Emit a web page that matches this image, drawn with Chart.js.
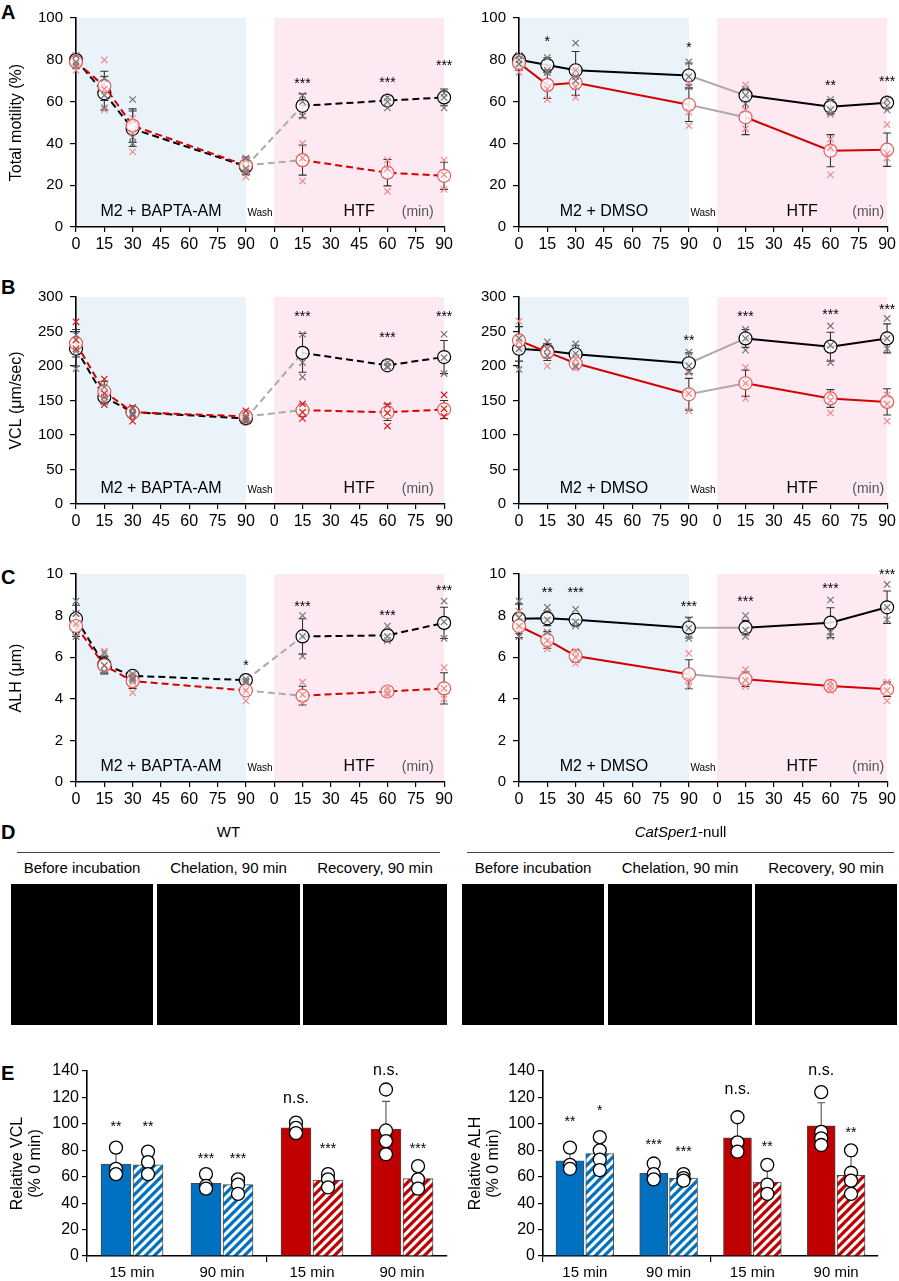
<!DOCTYPE html>
<html><head><meta charset="utf-8">
<script src="https://cdn.jsdelivr.net/npm/chart.js@4.4.0/dist/chart.umd.min.js"></script>
<style>
body{margin:0;background:#fff;width:899px;height:1281px;position:relative;overflow:hidden;font-family:"Liberation Sans",Arial,sans-serif;color:#000;}
canvas{position:absolute;}
.pl{position:absolute;left:1px;font-weight:bold;font-size:20px;line-height:22px;}
.dh{position:absolute;font-size:15px;line-height:18px;text-align:center;}
.dl{position:absolute;height:0;border-top:1.3px solid #444;}
.im{position:absolute;background:#000;}
</style></head><body>

<div class="pl" style="top:1px">A</div>
<div class="pl" style="top:276px">B</div>
<div class="pl" style="top:566px">C</div>
<div class="pl" style="top:821px">D</div>
<div class="pl" style="top:1062px">E</div>

<canvas id="aL" width="456" height="252" style="left:0;top:0"></canvas>
<canvas id="aR" width="449" height="252" style="left:450px;top:0"></canvas>
<canvas id="bL" width="456" height="250" style="left:0;top:279px"></canvas>
<canvas id="bR" width="449" height="250" style="left:450px;top:279px"></canvas>
<canvas id="cL" width="456" height="251" style="left:0;top:556px"></canvas>
<canvas id="cR" width="449" height="251" style="left:450px;top:556px"></canvas>

<div class="dh" style="left:17px;width:423px;top:823px">WT</div>
<div class="dl" style="left:17px;width:423px;top:852px"></div>
<div class="dh" style="left:467px;width:427px;top:823px"><i>CatSper1</i>-null</div>
<div class="dl" style="left:467px;width:427px;top:852px"></div>
<div class="dh" style="left:11px;width:142px;top:859px">Before incubation</div>
<div class="dh" style="left:157px;width:143px;top:859px">Chelation, 90 min</div>
<div class="dh" style="left:303px;width:144px;top:859px">Recovery, 90 min</div>
<div class="dh" style="left:462px;width:142px;top:859px">Before incubation</div>
<div class="dh" style="left:608px;width:144px;top:859px">Chelation, 90 min</div>
<div class="dh" style="left:755px;width:142px;top:859px">Recovery, 90 min</div>
<div class="im" style="left:11px;top:884px;width:142px;height:141px"></div>
<div class="im" style="left:157px;top:884px;width:143px;height:141px"></div>
<div class="im" style="left:303px;top:884px;width:144px;height:141px"></div>
<div class="im" style="left:462px;top:884px;width:142px;height:141px"></div>
<div class="im" style="left:608px;top:884px;width:144px;height:141px"></div>
<div class="im" style="left:755px;top:884px;width:142px;height:141px"></div>

<canvas id="eL" width="455" height="231" style="left:0;top:1050px"></canvas>
<canvas id="eR" width="449" height="231" style="left:450px;top:1050px"></canvas>

<script>
// ---------- time axis ----------
const M2_MIN = [0, 15, 30, 90];
const HTF_MIN = [15, 60, 90];
const WASH_OFFSET = 105; // axis position of HTF 0 min

// ---------- A: total motility (%) ----------
const motBaptaWT = [80, 64, 47, 29, 58, 60.5, 62];
const motBaptaWTsd = [2.5, 8, 8.5, 4, 5.7, 2, 4];
const motBaptaWTrep = [[82,79,77],[71,63,57],[61,43,40],[33,28,26],[63,60,53],[62,60,57],[64,62,57]];
const motBaptaKO = [79, 67.5, 48.5, 29.5, 32, 26, 24.5];
const motBaptaKOsd = [3, 7, 8, 4, 7.2, 6.3, 6.5];
const motBaptaKOrep = [[82,78,75],[80,66,56],[52,45,36],[32,27,24],[40,33,22],[32,28,17],[32,25,18]];
const motBaptaSig = ['', '', '', '', '***', '***', '***'];
const motBaptaSigY = [null, null, null, null, 70, 70.4, 78.4];

const motDmsoWT = [80, 77.5, 75, 72.5, 63, 57.5, 59.5];
const motDmsoWTsd = [3, 3.5, 9, 6, 3, 3.5, 2.5];
const motDmsoWTrep = [[82,80,78],[81,75,74],[88,72,70],[79,72,67],[66,63,59],[61,56,54],[61,58,56]];
const motDmsoKO = [78.5, 68, 69, 58.5, 52.5, 36.5, 37];
const motDmsoKOsd = [3.5, 6.5, 6, 8, 8.3, 7.7, 8];
const motDmsoKOrep = [[82,78,74],[74,66,61],[75,67,62],[69,55,48.5],[68,56,47],[42,38,25],[49,35,33]];
const motDmsoSig = ['', '*', '', '*', '', '**', '***'];
const motDmsoSigY = [null, 90, null, 87, null, 69, 71];

// ---------- B: VCL (µm/sec) ----------
const vclBaptaWT = [225, 155, 133, 124, 219, 201, 213];
const vclBaptaWTsd = [25, 10, 5, 4, 28, 5, 24];
const vclBaptaWTrep = [[245,222,196],[170,155,148],[138,132,128],[128,122,119],[246,205,184],[205,200,198],[246,212,189]];
const vclBaptaKO = [233, 163, 133, 127, 136, 133, 137];
const vclBaptaKOsd = [20, 15, 8, 6, 9, 12, 13];
const vclBaptaKOrep = [[264,238,225],[181,160,144],[140,130,120],[135,125,120],[145,133,124],[143,132,113],[158,138,127]];
const vclBaptaSig = ['', '', '', '', '***', '***', '***'];
const vclBaptaSigY = [null, null, null, null, 275, 245, 275];

const vclDmsoWT = [225, 222, 217, 204, 240, 228, 240];
const vclDmsoWTsd = [18, 10, 13, 15, 13, 21, 21];
const vclDmsoWTrep = [[240,225,195],[235,225,215],[232,218,200],[220,200,192],[253,240,223],[258,230,205],[269,240,225]];
const vclDmsoKO = [237, 220, 204, 159, 175, 153, 148];
const vclDmsoKOsd = [20, 12, 8, 23, 19, 13, 19];
const vclDmsoKOrep = [[265,235,225],[225,215,200],[210,200,197],[190,160,135],[198,175,153],[160,150,132],[158,145,120]];
const vclDmsoSig = ['', '', '', '**', '***', '***', '***'];
const vclDmsoSigY = [null, null, null, 241, 275, 278, 285];

// ---------- C: ALH (µm) ----------
const alhBaptaWT = [7.85, 5.65, 5.1, 4.9, 7.0, 7.05, 7.65];
const alhBaptaWTsd = [0.65, 0.4, 0.15, 0.1, 0.85, 0.25, 0.75];
const alhBaptaWTrep = [[8.7,8.1,7.0],[6.2,5.6,5.3],[5.2,5.0,4.9],[4.95,4.85,4.8],[8.0,7.0,6.05],[7.5,7.0,6.8],[8.7,7.7,6.9]];
const alhBaptaKO = [7.5, 5.6, 4.85, 4.4, 4.15, 4.35, 4.5];
const alhBaptaKOsd = [0.5, 0.4, 0.35, 0.2, 0.45, 0.15, 0.75];
const alhBaptaKOrep = [[8.1,7.6,7.0],[6.3,5.6,5.3],[5.1,4.8,4.3],[4.8,4.4,3.9],[4.8,4.2,3.8],[4.5,4.3,4.2],[5.5,4.5,4.0]];
const alhBaptaSig = ['', '', '', '*', '***', '***', '***'];
const alhBaptaSigY = [null, null, null, 5.7, 8.54, 8.11, 9.31];

const alhDmsoWT = [7.85, 7.87, 7.8, 7.42, 7.42, 7.66, 8.4];
const alhDmsoWTsd = [0.7, 0.35, 0.3, 0.5, 0.35, 0.72, 0.78];
const alhDmsoWTrep = [[8.7,7.9,7.0],[8.4,7.8,7.2],[8.3,7.7,7.5],[7.8,7.4,6.9],[8.0,7.3,7.0],[8.75,7.2,7.0],[9.5,8.4,7.8]];
const alhDmsoKO = [7.5, 6.83, 6.06, 5.18, 4.94, 4.62, 4.46];
const alhDmsoKOsd = [0.55, 0.4, 0.3, 0.7, 0.35, 0.15, 0.35];
const alhDmsoKOrep = [[8.2,7.5,7.0],[7.2,6.8,6.4],[6.3,6.0,5.7],[6.18,4.9,4.6],[5.4,4.9,4.6],[4.8,4.6,4.4],[4.8,4.4,3.9]];
const alhDmsoSig = ['', '**', '***', '***', '***', '***', '***'];
const alhDmsoSigY = [null, 9.23, 9.23, 8.54, 8.78, 9.44, 10.08];

// ---------- E: relative VCL / ALH (% 0 min) ----------
const eCategories = ['15 min', '90 min', '15 min', '90 min'];
const eGenotypeIsWT = [true, true, false, false];

const relVclSolid = [69.5, 55, 97, 96];
const relVclSolidErr = [8.5, 4, 4, 21];
const relVclSolidPts = [[82,66,62],[62,53,51],[101,97,93],[126,95,87,77]];
const relVclSolidSig = ['**', '***', 'n.s.', 'n.s.'];
const relVclSolidSigY = [100, 76, 119, 140];
const relVclHatched = [69, 54, 57.5, 58.5];
const relVclHatchedErr = [6, 4, 4, 7];
const relVclHatchedPts = [[79,71,62],[58,54,47],[62,58,52],[68,58,51]];
const relVclHatchedSig = ['**', '***', '***', '***'];
const relVclHatchedSigY = [100, 76, 83, 83];

const relAlhSolid = [72, 62.5, 89.5, 98.5];
const relAlhSolidErr = [6, 5, 11.5, 17.5];
const relAlhSolidPts = [[82,69,66],[70,62,58],[105,86,79],[124,94,89,84]];
const relAlhSolidSig = ['**', '***', 'n.s.', 'n.s.'];
const relAlhSolidSigY = [104, 86, 126, 140];
const relAlhHatched = [77.5, 59, 56, 61];
const relAlhHatchedErr = [9.5, 2.5, 9, 14.5];
const relAlhHatchedPts = [[90,80,73,65],[62,59,57],[69,54,47],[80,63,57,47]];
const relAlhHatchedSig = ['*', '***', '**', '**'];
const relAlhHatchedSigY = [112, 81, 85, 95];

// ---------- styles ----------
Chart.defaults.font.family = '"Liberation Sans", Arial, sans-serif';
Chart.defaults.color = '#000';
const FONT = '"Liberation Sans", Arial, sans-serif';
const GRAY_LINE = '#ababab', RED = '#d40000', RED_PT = '#e35a5a';
const CROSS_GRAY = '#767676', CROSS_PINK = '#ef8a8a', CROSS_RED = '#e21a1a';
const BLUE_BG = '#eaf2fa', PINK_BG = '#fde9f1';
const BAR_BLUE = '#0070c0', BAR_RED = '#c00000';
const BAR_SHIFT = 0.178;

function drawSig(ctx, txt, x, y, size) {
  ctx.font = size + 'px ' + FONT;
  ctx.textAlign = 'center';
  ctx.textBaseline = 'middle';
  const off = /^\*+$/.test(txt) ? size * 0.22 : 0;
  ctx.fillText(txt, x, y + off);
}

function lineChart(id, c) {
  const xs = [...M2_MIN, ...HTF_MIN.map(m => m + WASH_OFFSET)];
  const pts = v => v.map((y, i) => ({x: xs[i], y}));
  const reps = r => r.flatMap((a, i) => a.map(y => ({x: xs[i], y})));
  const dash = c.dashed ? [7, 4] : [];
  const seg = {borderColor: s => s.p0DataIndex === M2_MIN.length - 1 ? GRAY_LINE : undefined};
  const overlay = {
    id: 'ov',
    beforeDraw(chart) {
      const {ctx, chartArea: a, scales: {x}} = chart;
      ctx.save();
      ctx.fillStyle = BLUE_BG;
      ctx.fillRect(x.getPixelForValue(0), a.top, x.getPixelForValue(90) - x.getPixelForValue(0), a.bottom - a.top);
      ctx.fillStyle = PINK_BG;
      ctx.fillRect(x.getPixelForValue(WASH_OFFSET), a.top, x.getPixelForValue(WASH_OFFSET + 90) - x.getPixelForValue(WASH_OFFSET), a.bottom - a.top);
      const base = a.bottom - 11;
      ctx.textAlign = 'center'; ctx.textBaseline = 'alphabetic';
      ctx.fillStyle = '#000';
      ctx.font = '16px ' + FONT;
      ctx.fillText(c.phase, x.getPixelForValue(45), base);
      ctx.fillText('HTF', x.getPixelForValue(150), base);
      ctx.font = '10px ' + FONT;
      ctx.fillText('Wash', x.getPixelForValue(97.5), base);
      ctx.fillStyle = '#555';
      ctx.font = '14px ' + FONT;
      ctx.fillText('(min)', x.getPixelForValue(c.minX), base);
      ctx.restore();
    },
    beforeDatasetsDraw(chart) {
      const {ctx, scales: {x, y}} = chart;
      ctx.save();
      ctx.strokeStyle = '#333'; ctx.lineWidth = 1.1;
      [[c.wt, c.wtSd], [c.ko, c.koSd]].forEach(([m, sd]) => {
        m.forEach((v, i) => {
          const px = x.getPixelForValue(xs[i]);
          const t = y.getPixelForValue(v + sd[i]), b = y.getPixelForValue(v - sd[i]);
          ctx.beginPath();
          ctx.moveTo(px, t); ctx.lineTo(px, b);
          ctx.moveTo(px - 4, t); ctx.lineTo(px + 4, t);
          ctx.moveTo(px - 4, b); ctx.lineTo(px + 4, b);
          ctx.stroke();
        });
      });
      ctx.restore();
    },
    afterDatasetsDraw(chart) {
      const {ctx, scales: {x, y}} = chart;
      ctx.save(); ctx.fillStyle = '#000';
      c.sig.forEach((s, i) => { if (s) drawSig(ctx, s, x.getPixelForValue(xs[i]), y.getPixelForValue(c.sigY[i]), 14); });
      ctx.restore();
    }
  };
  new Chart(document.getElementById(id), {
    type: 'line',
    data: {datasets: [
      {type: 'scatter', data: reps(c.wtRep), showLine: false, pointStyle: 'crossRot', pointRadius: 4.5,
       borderColor: CROSS_GRAY, backgroundColor: CROSS_GRAY, borderWidth: 1.2, order: 0, clip: false},
      {type: 'scatter', data: reps(c.koRep), showLine: false, pointStyle: 'crossRot', pointRadius: 4.5,
       borderColor: c.koCross, backgroundColor: c.koCross, borderWidth: 1.2, order: 0, clip: false},
      {data: pts(c.wt), borderColor: '#000', borderWidth: 2, borderDash: dash, segment: seg,
       pointRadius: 6.5, pointBackgroundColor: 'rgba(255,255,255,0.85)', pointBorderColor: '#000', pointBorderWidth: 1.2,
       order: 2, clip: false},
      {data: pts(c.ko), borderColor: RED, borderWidth: 2, borderDash: dash, segment: seg,
       pointRadius: 6.5, pointBackgroundColor: 'rgba(255,255,255,0.85)', pointBorderColor: RED_PT, pointBorderWidth: 1.2,
       order: 1, clip: false}
    ]},
    options: {
      responsive: false, animation: false, devicePixelRatio: 1,
      layout: {padding: {top: 18, right: c.padRight, left: 0, bottom: 0}},
      plugins: {legend: {display: false}, tooltip: {enabled: false}},
      scales: {
        x: {type: 'linear', min: 0, max: WASH_OFFSET + 90,
            ticks: {stepSize: 15, autoSkip: false, maxRotation: 0, padding: 3, font: {size: 16}, color: '#000',
                    callback: v => (v <= 90 ? v : v - WASH_OFFSET)},
            grid: {drawOnChartArea: false, color: '#000', tickLength: 5, lineWidth: 1.2},
            border: {color: '#000', width: 1.6},
            afterFit: s => { s.height = 25; }},
        y: {min: 0, max: c.yMax,
            ticks: {stepSize: c.yStep, padding: 7, font: {size: 15}, color: '#000'},
            grid: {drawOnChartArea: false, color: '#000', tickLength: 6, lineWidth: 1.2},
            border: {color: '#000', width: 1.6},
            title: {display: !!c.title, text: c.title, color: '#000', font: {size: 16}, padding: {top: 7, bottom: 0}},
            afterFit: s => { s.width = c.yW; }}
      }
    },
    plugins: [overlay]
  });
}

const L = {yW: 76, padRight: 11, dashed: true, phase: 'M2 + BAPTA-AM', minX: 181};
const R = {yW: 69, padRight: 11, dashed: false, phase: 'M2 + DMSO', minX: 185, title: ''};

lineChart('aL', {...L, wt: motBaptaWT, wtSd: motBaptaWTsd, wtRep: motBaptaWTrep, ko: motBaptaKO, koSd: motBaptaKOsd, koRep: motBaptaKOrep,
  sig: motBaptaSig, sigY: motBaptaSigY, yMax: 100, yStep: 20, title: 'Total motility (%)', koCross: CROSS_PINK});
lineChart('aR', {...R, wt: motDmsoWT, wtSd: motDmsoWTsd, wtRep: motDmsoWTrep, ko: motDmsoKO, koSd: motDmsoKOsd, koRep: motDmsoKOrep,
  sig: motDmsoSig, sigY: motDmsoSigY, yMax: 100, yStep: 10, koCross: CROSS_PINK});
lineChart('bL', {...L, wt: vclBaptaWT, wtSd: vclBaptaWTsd, wtRep: vclBaptaWTrep, ko: vclBaptaKO, koSd: vclBaptaKOsd, koRep: vclBaptaKOrep,
  sig: vclBaptaSig, sigY: vclBaptaSigY, yMax: 300, yStep: 50, title: 'VCL (μm/sec)', koCross: CROSS_RED});
lineChart('bR', {...R, wt: vclDmsoWT, wtSd: vclDmsoWTsd, wtRep: vclDmsoWTrep, ko: vclDmsoKO, koSd: vclDmsoKOsd, koRep: vclDmsoKOrep,
  sig: vclDmsoSig, sigY: vclDmsoSigY, yMax: 300, yStep: 50, koCross: CROSS_PINK});
lineChart('cL', {...L, wt: alhBaptaWT, wtSd: alhBaptaWTsd, wtRep: alhBaptaWTrep, ko: alhBaptaKO, koSd: alhBaptaKOsd, koRep: alhBaptaKOrep,
  sig: alhBaptaSig, sigY: alhBaptaSigY, yMax: 10, yStep: 2, title: 'ALH (μm)', koCross: CROSS_PINK});
lineChart('cR', {...R, wt: alhDmsoWT, wtSd: alhDmsoWTsd, wtRep: alhDmsoWTrep, ko: alhDmsoKO, koSd: alhDmsoKOsd, koRep: alhDmsoKOrep,
  sig: alhDmsoSig, sigY: alhDmsoSigY, yMax: 10, yStep: 2, koCross: CROSS_PINK});

// ---------- E bar charts ----------
function hatch(color) {
  const s = 9, cv = document.createElement('canvas'); cv.width = cv.height = s;
  const g = cv.getContext('2d');
  g.fillStyle = '#fff'; g.fillRect(0, 0, s, s);
  g.strokeStyle = color; g.lineWidth = 3.3;
  g.beginPath();
  g.moveTo(0, s); g.lineTo(s, 0);
  g.moveTo(-s / 2, s / 2); g.lineTo(s / 2, -s / 2);
  g.moveTo(s / 2, s * 1.5); g.lineTo(s * 1.5, s / 2);
  g.stroke();
  return g.createPattern(cv, 'repeat');
}
const HATCH_BLUE = hatch(BAR_BLUE), HATCH_RED = hatch(BAR_RED);

function barChart(id, c) {
  const pos = (i, side) => i + 0.5 + side * BAR_SHIFT;
  const toBars = (arr, side) => arr.map((y, i) => ({x: pos(i, side), y}));
  const toPts = (arr, side) => arr.flatMap((a, i) => a.map(y => ({x: pos(i, side), y})));
  const overlay = {
    id: 'bov',
    beforeDatasetsDraw(chart) {
      const {ctx, scales: {xp, y}} = chart;
      ctx.save(); ctx.strokeStyle = '#555'; ctx.lineWidth = 1.1;
      [[c.solid, c.solidErr, -1], [c.hatched, c.hatchedErr, 1]].forEach(([m, e, side]) => {
        m.forEach((v, i) => {
          const px = xp.getPixelForValue(pos(i, side));
          const y0 = y.getPixelForValue(v), y1 = y.getPixelForValue(v + e[i]);
          ctx.beginPath();
          ctx.moveTo(px, y0); ctx.lineTo(px, y1);
          ctx.moveTo(px - 4, y1); ctx.lineTo(px + 4, y1);
          ctx.stroke();
        });
      });
      ctx.restore();
    },
    afterDatasetsDraw(chart) {
      const {ctx, scales: {xp, y}} = chart;
      ctx.save(); ctx.fillStyle = '#000';
      [[c.solidSig, c.solidSigY, -1], [c.hatchedSig, c.hatchedSigY, 1]].forEach(([s, sy, side]) => {
        s.forEach((t, i) => {
          const size = t === 'n.s.' ? 16 : 14;
          drawSig(ctx, t, xp.getPixelForValue(pos(i, side)), y.getPixelForValue(sy[i]), size);
        });
      });
      ctx.restore();
    }
  };
  new Chart(document.getElementById(id), {
    type: 'bar',
    data: {labels: eCategories, datasets: [
      {xAxisID: 'xp', data: toBars(c.solid, -1), backgroundColor: eGenotypeIsWT.map(w => w ? BAR_BLUE : BAR_RED),
       borderColor: '#4a4a4a', borderWidth: 1, grouped: false, barThickness: c.barW, order: 2},
      {xAxisID: 'xp', data: toBars(c.hatched, 1), backgroundColor: eGenotypeIsWT.map(w => w ? HATCH_BLUE : HATCH_RED),
       borderColor: '#4a4a4a', borderWidth: 1, grouped: false, barThickness: c.barW, order: 2},
      {type: 'scatter', xAxisID: 'xp', data: [...toPts(c.solidPts, -1), ...toPts(c.hatchedPts, 1)],
       pointStyle: 'circle', pointRadius: 6.5, backgroundColor: '#fff', borderColor: '#000', borderWidth: 1.3, order: 0, clip: false}
    ]},
    options: {
      responsive: false, animation: false, devicePixelRatio: 1,
      layout: {padding: {top: 21, right: c.padRight, left: 0, bottom: 0}},
      plugins: {legend: {display: false}, tooltip: {enabled: false}},
      scales: {
        x: {type: 'category', offset: true,
            ticks: {padding: 2, font: {size: 15}, color: '#000', maxRotation: 0, autoSkip: false},
            grid: {offset: true, drawOnChartArea: false, tickLength: 6, lineWidth: 1.2,
                   color: ctx => (ctx.index % 2 === 0 ? '#000' : 'rgba(0,0,0,0)')},
            border: {color: '#000', width: 1.6},
            afterFit: s => { s.height = 25; }},
        xp: {type: 'linear', min: 0, max: eCategories.length, display: false, offset: false},
        y: {min: 0, max: 140,
            ticks: {stepSize: 20, padding: 3, font: {size: 16}, color: '#000'},
            grid: {drawOnChartArea: false, color: '#000', tickLength: 5, lineWidth: 1.2},
            border: {color: '#000', width: 1.6},
            title: {display: true, text: c.title, color: '#000', font: {size: 16, lineHeight: 1.15}, padding: {top: c.titlePad, bottom: 0}},
            afterFit: s => { s.width = c.yW; }}
      }
    },
    plugins: [overlay]
  });
}

barChart('eL', {solid: relVclSolid, solidErr: relVclSolidErr, solidPts: relVclSolidPts, solidSig: relVclSolidSig, solidSigY: relVclSolidSigY,
  hatched: relVclHatched, hatchedErr: relVclHatchedErr, hatchedPts: relVclHatchedPts, hatchedSig: relVclHatchedSig, hatchedSigY: relVclHatchedSigY,
  title: ['Relative VCL', '(% 0 min)'], yW: 87, padRight: 8, titlePad: 8, barW: 30});
barChart('eR', {solid: relAlhSolid, solidErr: relAlhSolidErr, solidPts: relAlhSolidPts, solidSig: relAlhSolidSig, solidSigY: relAlhSolidSigY,
  hatched: relAlhHatched, hatchedErr: relAlhHatchedErr, hatchedPts: relAlhHatchedPts, hatchedSig: relAlhHatchedSig, hatchedSigY: relAlhHatchedSigY,
  title: ['Relative ALH', '(% 0 min)'], yW: 93, padRight: 21, titlePad: 16, barW: 28});
</script>
</body></html>
